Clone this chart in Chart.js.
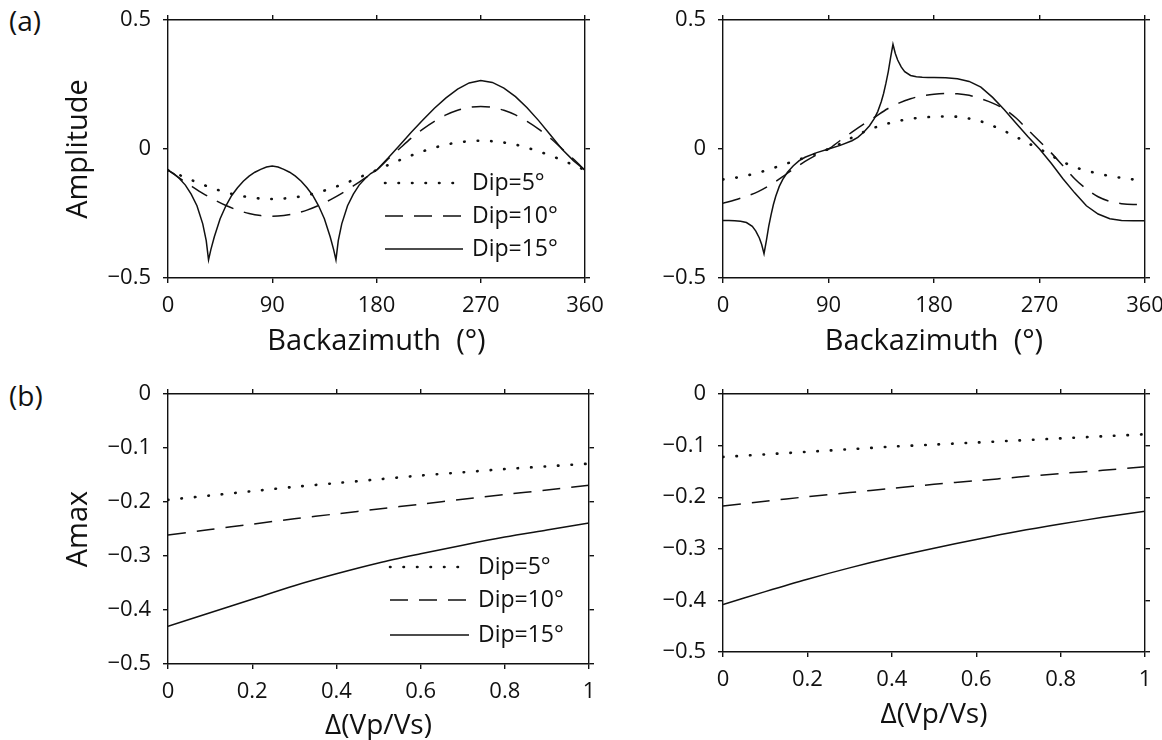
<!DOCTYPE html>
<html>
<head>
<meta charset="utf-8">
<title>Amplitude vs backazimuth</title>
<script src="https://cdn.jsdelivr.net/npm/chart.js@4.4.0/dist/chart.umd.min.js"></script>
<style>
  body { margin: 0; background: #fff; }
  #wrap { position: relative; width: 1162px; height: 740px; overflow: hidden; font-family: "Open Sans", sans-serif; color: #111; }
  canvas { position: absolute; }
  .tag { position: absolute; font-size: 28px; line-height: 30px; }
</style>
</head>
<body>
<div id="wrap">
  <div class="tag" style="left:9px; top:5px">(a)</div>
  <div class="tag" style="left:9px; top:380px">(b)</div>
  <canvas id="c1" width="620" height="370" style="left:0; top:0"></canvas>
  <canvas id="c2" width="602" height="370" style="left:560px; top:0"></canvas>
  <canvas id="c3" width="620" height="370" style="left:0; top:370px"></canvas>
  <canvas id="c4" width="602" height="370" style="left:560px; top:370px"></canvas>
</div>
<script>
// (a) backazimuth, 10 degree steps for the smooth curves
const baz = [0,10,20,30,40,50,60,70,80,90,100,110,120,130,140,150,160,170,180,
  190,200,210,220,230,240,250,260,270,280,290,300,310,320,330,340,350,360];

// left panel (a)
const ampL_dip5 = [-0.082,-0.101,-0.120,-0.138,-0.154,-0.168,-0.179,-0.187,-0.192,-0.194,-0.192,-0.187,-0.179,-0.168,-0.154,-0.138,-0.120,-0.101,-0.082,
  -0.062,-0.043,-0.025,-0.009,0.005,0.017,0.025,0.030,0.032,0.030,0.025,0.017,0.005,-0.009,-0.025,-0.043,-0.062,-0.082];
const ampL_dip10 = [-0.082,-0.113,-0.143,-0.172,-0.197,-0.219,-0.237,-0.250,-0.258,-0.261,-0.258,-0.250,-0.237,-0.219,-0.197,-0.172,-0.143,-0.113,-0.082,
  -0.039,0.002,0.042,0.077,0.107,0.132,0.150,0.161,0.165,0.161,0.150,0.132,0.107,0.077,0.042,0.002,-0.039,-0.082];
const bazL15 = [0,5,10,15,20,25,30,33,35,37,40,45,50,55,60,65,70,75,80,85,90,95,100,105,110,115,120,125,130,135,140,143,145,147,150,155,160,165,170,175,180,
  190,200,210,220,230,240,250,260,270,280,290,300,310,320,330,340,350,360];
const ampL_dip15 = [-0.082,-0.095,-0.115,-0.140,-0.175,-0.220,-0.290,-0.355,-0.430,-0.390,-0.340,-0.270,-0.220,-0.180,-0.150,-0.125,-0.105,-0.090,-0.079,-0.070,-0.066,
  -0.070,-0.079,-0.090,-0.105,-0.125,-0.150,-0.180,-0.220,-0.270,-0.340,-0.390,-0.430,-0.355,-0.290,-0.220,-0.175,-0.140,-0.115,-0.095,-0.082,
  -0.035,0.015,0.065,0.112,0.158,0.198,0.232,0.256,0.265,0.258,0.236,0.203,0.160,0.110,0.055,0.000,-0.045,-0.082];

// right panel (a)
const ampR_dip5 = [-0.118,-0.112,-0.103,-0.092,-0.078,-0.063,-0.048,-0.033,-0.017,0.000,0.020,0.044,0.066,0.084,0.098,0.109,0.117,0.122,0.125,
  0.126,0.125,0.118,0.107,0.090,0.070,0.047,0.023,0.000,-0.025,-0.050,-0.070,-0.084,-0.095,-0.105,-0.112,-0.118,-0.121];
const ampR_dip10 = [-0.210,-0.198,-0.183,-0.165,-0.140,-0.110,-0.078,-0.048,-0.022,0.000,0.033,0.065,0.096,0.125,0.155,0.178,0.195,0.206,0.212,
  0.215,0.214,0.208,0.195,0.178,0.155,0.120,0.075,0.030,-0.015,-0.065,-0.115,-0.155,-0.185,-0.203,-0.212,-0.215,-0.213];
const bazR15 = [0,5,10,15,20,25,28,31,33,35,37,39,41,43,45,48,51,55,60,65,70,80,90,100,110,115,120,125,129,132,135,137,139,141,143,145,147,149,152,155,160,165,170,175,180,
  190,200,210,220,230,240,250,260,270,280,290,300,310,320,330,340,350,360];
const ampR_dip15 = [-0.277,-0.277,-0.278,-0.280,-0.285,-0.300,-0.318,-0.345,-0.370,-0.406,-0.355,-0.300,-0.255,-0.215,-0.183,-0.145,-0.118,-0.090,-0.065,-0.045,-0.032,-0.014,0.000,
  0.014,0.032,0.045,0.065,0.090,0.118,0.145,0.183,0.215,0.255,0.300,0.355,0.406,0.370,0.345,0.318,0.300,0.285,0.280,0.278,0.277,0.277,
  0.276,0.272,0.262,0.240,0.200,0.152,0.100,0.048,0.000,-0.055,-0.115,-0.170,-0.220,-0.252,-0.270,-0.277,-0.278,-0.278];

// (b) Amax against delta(Vp/Vs)
const dvp = [0,0.1,0.2,0.3,0.4,0.5,0.6,0.7,0.8,0.9,1.0];
const amaxL_dip5  = [-0.196,-0.188,-0.180,-0.172,-0.165,-0.158,-0.151,-0.145,-0.139,-0.134,-0.129];
const amaxL_dip10 = [-0.261,-0.251,-0.241,-0.231,-0.222,-0.213,-0.204,-0.195,-0.186,-0.178,-0.169];
const amaxL_dip15 = [-0.430,-0.405,-0.380,-0.355,-0.333,-0.313,-0.296,-0.280,-0.265,-0.252,-0.239];
const amaxR_dip5  = [-0.122,-0.117,-0.112,-0.107,-0.102,-0.098,-0.094,-0.090,-0.086,-0.082,-0.078];
const amaxR_dip10 = [-0.217,-0.208,-0.199,-0.191,-0.183,-0.175,-0.168,-0.161,-0.154,-0.148,-0.141];
const amaxR_dip15 = [-0.408,-0.383,-0.359,-0.337,-0.317,-0.299,-0.282,-0.266,-0.252,-0.239,-0.227];

const labels = ['Dip=5°', 'Dip=10°', 'Dip=15°'];

const ink = '#111';
const font = '"Open Sans", sans-serif';

const fmt = v => {
  const r = Math.round(v * 10) / 10;
  return r < 0 ? '\u2212' + Math.abs(r) : String(r);
};

const dotted = { borderWidth: 2.6, borderDash: [0.5, 13], borderCapStyle: 'round', tension: 0.3 };
const dashed = { borderWidth: 1.5, borderDash: [18, 11], tension: 0.3 };
const solid  = { borderWidth: 1.5, tension: 0 };

function series(label, xs, ys, style) {
  return Object.assign({
    label,
    data: xs.map((x, i) => ({ x, y: ys[i] })),
    borderColor: ink,
    pointRadius: 0,
    fill: false,
    xAxisID: 'x',
    yAxisID: 'y'
  }, style);
}

// legend drawn inside the plot, line sample + text
const legendLines = {
  id: 'legendLines',
  afterDatasetsDraw(chart, args, opts) {
    if (!opts.rows) return;
    const ctx = chart.ctx;
    chart.data.datasets.forEach((ds, i) => {
      const y = opts.rows[i];
      ctx.save();
      ctx.strokeStyle = ds.borderColor;
      ctx.lineWidth = ds.borderWidth;
      ctx.lineCap = ds.borderCapStyle || 'butt';
      ctx.setLineDash(ds.borderDash || []);
      ctx.beginPath();
      ctx.moveTo(opts.x0, y);
      ctx.lineTo(opts.x1, y);
      ctx.stroke();
      ctx.setLineDash([]);
      ctx.fillStyle = ink;
      ctx.font = '23px ' + font;
      ctx.textBaseline = 'middle';
      ctx.fillText(ds.label, opts.tx, y);
      ctx.restore();
    });
  }
};

function scales(c) {
  const edge = { display: true, color: ink, width: 1.4 };
  const marks = { drawOnChartArea: false, drawTicks: true, tickLength: 5, color: ink, lineWidth: 1.4 };
  const tickFont = { family: font, size: 22 };
  return {
    x: {
      type: 'linear', position: 'bottom', min: c.x[0], max: c.x[1], border: edge, grid: marks,
      ticks: { stepSize: c.x[2], color: ink, font: tickFont, padding: 10, maxRotation: 0, autoSkip: false, callback: fmt },
      title: { display: true, text: c.xTitle, color: ink, font: { family: font, size: c.xSize, lineHeight: c.xLine }, padding: { top: 0, bottom: c.xPad } },
      afterFit: s => { s.height = c.xh; s.paddingLeft = 0; s.paddingRight = 0; }
    },
    x2: {
      type: 'linear', position: 'top', min: c.x[0], max: c.x[1], border: edge, grid: marks,
      ticks: { stepSize: c.x[2], display: false },
      afterFit: s => { s.height = 6; s.paddingLeft = 0; s.paddingRight = 0; }
    },
    y: {
      type: 'linear', position: 'left', min: c.y[0], max: c.y[1], border: edge, grid: marks,
      ticks: { stepSize: c.y[2], color: ink, font: tickFont, padding: 12, autoSkip: false, callback: fmt },
      title: { display: !!c.yTitle, text: c.yTitle || '', color: ink, font: { family: font, size: 29, lineHeight: 1.2 }, padding: { top: 61, bottom: 0 } },
      afterFit: s => { s.width = c.yw; s.paddingTop = 0; s.paddingBottom = 0; }
    },
    y2: {
      type: 'linear', position: 'right', min: c.y[0], max: c.y[1], border: edge, grid: marks,
      ticks: { stepSize: c.y[2], display: false },
      afterFit: s => { s.width = 6; s.paddingTop = 0; s.paddingBottom = 0; }
    }
  };
}

function makeChart(id, datasets, c) {
  return new Chart(document.getElementById(id), {
    type: 'line',
    data: { datasets },
    options: {
      responsive: false,
      animation: false,
      devicePixelRatio: 1,
      layout: { padding: c.pad },
      plugins: { legend: { display: false }, tooltip: { enabled: false }, legendLines: c.legend || {} },
      scales: scales(c)
    },
    plugins: [legendLines]
  });
}

makeChart('c1', [
  series(labels[0], baz, ampL_dip5, dotted),
  series(labels[1], baz, ampL_dip10, dashed),
  series(labels[2], bazL15, ampL_dip15, solid)
], {
  x: [0, 360, 90], y: [-0.5, 0.5, 0.5], xTitle: 'Backazimuth  (°)', xSize: 29, xLine: 1.2, xPad: 11, xh: 92,
  yTitle: 'Amplitude', yw: 168, pad: { top: 14, right: 29, left: 0, bottom: 0 },
  legend: { rows: [183, 216, 249], x0: 385, x1: 463, tx: 472 }
});

makeChart('c2', [
  series(labels[0], baz, ampR_dip5, dotted),
  series(labels[1], baz, ampR_dip10, dashed),
  series(labels[2], bazR15, ampR_dip15, solid)
], {
  x: [0, 360, 90], y: [-0.5, 0.5, 0.5], xTitle: 'Backazimuth  (°)', xSize: 29, xLine: 1.2, xPad: 11, xh: 92,
  yw: 163, pad: { top: 14, right: 11, left: 0, bottom: 0 }
});

makeChart('c3', [
  series(labels[0], dvp, amaxL_dip5, dotted),
  series(labels[1], dvp, amaxL_dip10, dashed),
  series(labels[2], dvp, amaxL_dip15, Object.assign({}, solid, { tension: 0.3 }))
], {
  x: [0, 1, 0.2], y: [-0.5, 0, 0.1], xTitle: 'Δ(Vp/Vs)', xSize: 28, xLine: 1, xPad: 0, xh: 76,
  yTitle: 'Amax', yw: 168, pad: { top: 18, right: 25, left: 0, bottom: 0 },
  legend: { rows: [197, 230, 265], x0: 390, x1: 469, tx: 478 }
});

makeChart('c4', [
  series(labels[0], dvp, amaxR_dip5, dotted),
  series(labels[1], dvp, amaxR_dip10, dashed),
  series(labels[2], dvp, amaxR_dip15, Object.assign({}, solid, { tension: 0.3 }))
], {
  x: [0, 1, 0.2], y: [-0.5, 0, 0.1], xTitle: 'Δ(Vp/Vs)', xSize: 28, xLine: 1, xPad: 11, xh: 88,
  yw: 163, pad: { top: 18, right: 11, left: 0, bottom: 0 }
});
</script>
</body>
</html>
